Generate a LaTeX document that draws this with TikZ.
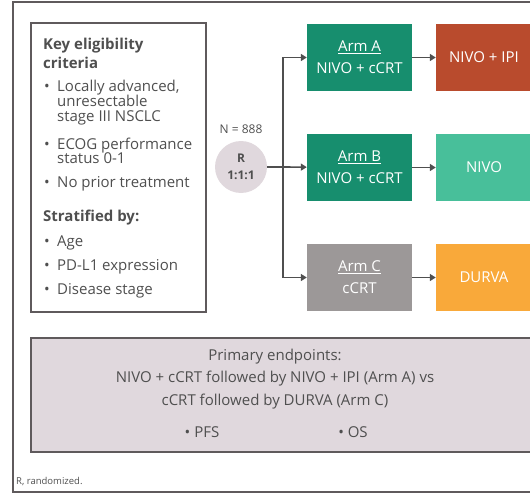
\documentclass[tikz,border=0pt]{standalone}
\usepackage{fontspec}
\setmainfont{Open Sans}
\usetikzlibrary{arrows.meta}
\definecolor{framegray}{HTML}{5F5A5C}
\definecolor{armteal}{HTML}{178E6E}
\definecolor{armgray}{HTML}{9C9898}
\definecolor{rustred}{HTML}{B94B2D}
\definecolor{mintgreen}{HTML}{48BF9A}
\definecolor{durvaorange}{HTML}{F9A93A}
\definecolor{mauve}{HTML}{E0D8DD}
\definecolor{textgray}{HTML}{4F4F4F}
\begin{document}
\begin{tikzpicture}[x=1pt,y=-1pt]
  \tikzstyle{armbox}=[rectangle, minimum width=105pt, minimum height=67pt, inner sep=0pt, text=white, align=center, font=\fontsize{15}{22}\selectfont]
  \tikzstyle{drugbox}=[rectangle, minimum width=96pt, minimum height=67pt, inner sep=0pt, text=white, align=center, font=\fontsize{15}{20}\selectfont]
  \tikzstyle{crit}=[anchor=base west, inner sep=0pt, text=textgray, font=\fontsize{15}{18}\selectfont]
  \tikzstyle{critbold}=[crit, font=\fontsize{15}{18}\selectfont\bfseries]
  \tikzstyle{flow}=[draw=textgray, line width=1.6pt, -{Triangle[length=6pt,width=7pt]}]
  \useasboundingbox (0,0) rectangle (530,495);
  \clip (0,0) rectangle (530,495);

  % Frames
  \draw[framegray, line width=1.5pt] (13,2) rectangle (545,492);
  \draw[framegray, line width=1.5pt] (31,23) rectangle (206,312);
  \draw[framegray, line width=2pt, fill=mauve] (31,338) rectangle (545,452);

  % Eligibility criteria
  \node[critbold] (key1) at (43,50) {Key eligibility};
  \node[critbold] (key2) at (43,68) {criteria};
  \node[crit] (b1) at (44,92) {•};
  \node[crit] (c1) at (57,92) {Locally advanced,};
  \node[crit] (c1b) at (57,106) {unresectable};
  \node[crit] (c1c) at (57,121) {stage III NSCLC};
  \node[crit] (b2) at (44,149) {•};
  \node[crit] (c2) at (57,149) {ECOG performance};
  \node[crit] (c2b) at (57,163) {status 0-1};
  \node[crit] (b3) at (44,187) {•};
  \node[crit] (c3) at (57,187) {No prior treatment};
  \node[critbold] (strat) at (43,221) {Stratified by:};
  \node[crit] (b4) at (44,246) {•};
  \node[crit] (s1) at (57,246) {Age};
  \node[crit] (b5) at (44,270) {•};
  \node[crit] (s2) at (57,270) {PD-L1 expression};
  \node[crit] (b6) at (44,294) {•};
  \node[crit] (s3) at (57,294) {Disease stage};

  % Randomisation
  \node[circle, fill=mauve, minimum size=52pt, inner sep=0pt, align=center, text=textgray, font=\fontsize{12}{17}\selectfont\bfseries] (r) at (241,167) {R\\1:1:1};
  \node[text=textgray, font=\fontsize{12}{14}\selectfont] (n) at (241,129) {N = 888};
  \coordinate (split) at (283,167);

  % Arms
  \node[armbox, fill=armteal] (armA) at (359.5,57.5) {\underline{Arm A}\\NIVO + cCRT};
  \node[armbox, fill=armteal] (armB) at (359.5,167.5) {\underline{Arm B}\\NIVO + cCRT};
  \node[armbox, fill=armgray] (armC) at (359.5,277.5) {\underline{Arm C}\\cCRT};
  \node[drugbox, fill=rustred] (ipi) at (484,57.5) {NIVO + IPI};
  \node[drugbox, fill=mintgreen] (nivo) at (484,167.5) {NIVO};
  \node[drugbox, fill=durvaorange] (durva) at (484,277.5) {DURVA};

  % Connectors
  \draw[draw=textgray, line width=1.6pt] (r) -- (split);
  \draw[flow] (split) |- (armA);
  \draw[flow] (split) -- (armB);
  \draw[flow] (split) |- (armC);
  \draw[flow] (armA) -- (ipi);
  \draw[flow] (armB) -- (nivo);
  \draw[flow] (armC) -- (durva);

  % Endpoints
  \node[text=textgray, align=center, font=\fontsize{15}{22.5}\selectfont] (ep) at (275,379) {Primary endpoints:\\NIVO + cCRT followed by NIVO + IPI (Arm A) vs\\cCRT followed by DURVA (Arm C)};
  \node[text=textgray, font=\fontsize{15}{18}\selectfont] (pfs) at (202,432) {• PFS};
  \node[text=textgray, font=\fontsize{15}{18}\selectfont] (os) at (353,432) {• OS};
  \node[anchor=west, inner sep=0pt, text=textgray, font=\fontsize{9.5}{11}\selectfont] (note) at (16,481) {R, randomized.};
\end{tikzpicture}
\end{document}
